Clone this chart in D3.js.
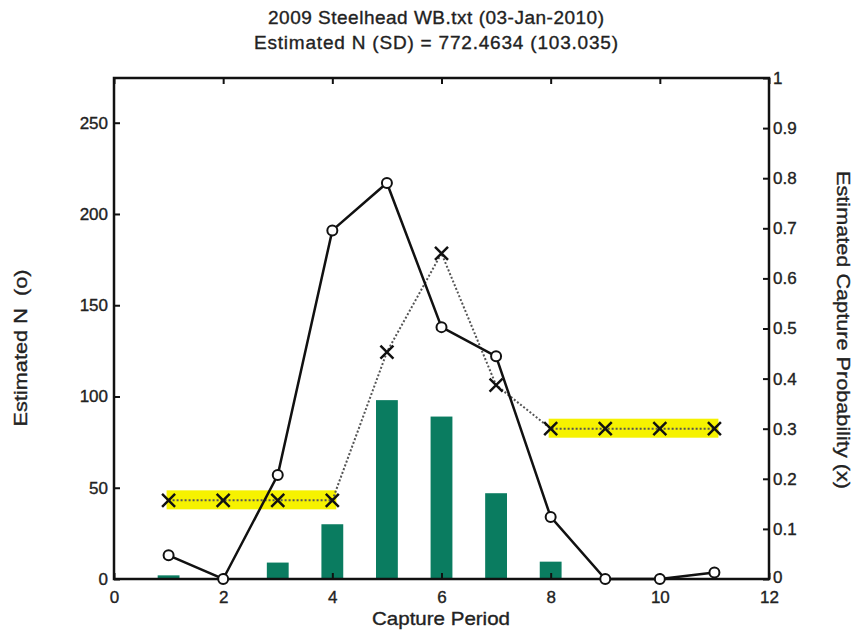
<!DOCTYPE html>
<html>
<head>
<meta charset="utf-8">
<script src="https://cdn.jsdelivr.net/npm/d3@7"></script>
<style>
  body { margin: 0; background: #fff; }
  svg text { font-family: "Liberation Sans", Arial, Helvetica, sans-serif; fill: #222; white-space: pre; }
</style>
</head>
<body>
<svg id="chart" width="855" height="634"></svg>
<script>
// Capture periods and estimates
const periods = [1, 2, 3, 4, 5, 6, 7, 8, 9, 10, 11];
const estimatedN = [13, 0, 57, 191, 217, 138, 122, 34, 0, 0, 3.5];
const catchCounts = [2, 0, 9, 30, 98, 89, 47, 9.5, 0, 0, 0.5];
const captureProb = [0.157, 0.157, 0.157, 0.157, 0.453, 0.65, 0.387, 0.30, 0.30, 0.30, 0.30];
// Periods sharing a pooled capture probability
const pooledGroups = [[1, 2, 3, 4], [8, 9, 10, 11]];

const xTicks = [0, 2, 4, 6, 8, 10, 12];
const leftTicks = [0, 50, 100, 150, 200, 250];
const rightTicks = [0, 0.1, 0.2, 0.3, 0.4, 0.5, 0.6, 0.7, 0.8, 0.9, 1];

const titleLines = ["2009 Steelhead WB.txt (03-Jan-2010)", "Estimated N (SD) = 772.4634 (103.035)"];

const svg = d3.select("#chart");
const m = { left: 114, right: 769, top: 78, bottom: 579 };

const x = d3.scaleLinear().domain([0, 12]).range([m.left, m.right]);
const yL = d3.scaleLinear().domain([0, 274.5]).range([m.bottom, m.top]);
const yR = d3.scaleLinear().domain([0, 1]).range([m.bottom, m.top]);

const labelSize = 19;
const tickSize = 17;

// Title
svg.selectAll("text.title").data(titleLines).join("text")
  .attr("class", "title")
  .attr("x", 436).attr("y", (d, i) => 24 + i * 25)
  .attr("text-anchor", "middle").attr("font-size", labelSize)
  .attr("stroke", "#222").attr("stroke-width", 0.35)
  .attr("textLength", (d, i) => i === 0 ? 336 : 364)
  .text(d => d);

// Yellow bands behind pooled probabilities
const bandGroups = pooledGroups.map(g => ({
  x0: d3.min(g), x1: d3.max(g),
  p: captureProb[periods.indexOf(g[0])]
}));
svg.selectAll("rect.band").data(bandGroups).join("rect")
  .attr("class", "band")
  .attr("x", d => x(d.x0) - 2)
  .attr("width", d => x(d.x1) - x(d.x0) + 6)
  .attr("y", d => yR(d.p) - 10)
  .attr("height", 19)
  .attr("fill", "#f6f200");

// Catch bars
const barW = x(0.4) - x(0);
svg.selectAll("rect.bar").data(periods).join("rect")
  .attr("class", "bar")
  .attr("x", (d) => x(d) - barW / 2)
  .attr("width", barW)
  .attr("y", (d, i) => yL(catchCounts[i]))
  .attr("height", (d, i) => yL(0) - yL(catchCounts[i]))
  .attr("fill", "#0a7c60");

// Capture probability dotted line
const probLine = d3.line().x((d, i) => x(periods[i])).y(d => yR(d));
svg.append("path").datum(captureProb)
  .attr("d", probLine)
  .attr("fill", "none").attr("stroke", "#555")
  .attr("stroke-width", 2).attr("stroke-dasharray", "2,2");

// Estimated N solid line
const nLine = d3.line().x((d, i) => x(periods[i])).y(d => yL(d));
svg.append("path").datum(estimatedN)
  .attr("d", nLine)
  .attr("fill", "none").attr("stroke", "#111").attr("stroke-width", 2.5);

// Axes frame
svg.append("rect")
  .attr("x", m.left).attr("y", m.top)
  .attr("width", m.right - m.left).attr("height", m.bottom - m.top)
  .attr("fill", "none").attr("stroke", "#111").attr("stroke-width", 2.5);

const tickLen = 6;
// Bottom axis
const xb = svg.append("g").attr("transform", `translate(0,${m.bottom})`)
  .call(d3.axisBottom(x).tickValues(xTicks).tickSize(-tickLen).tickPadding(12).tickFormat(d3.format("d")));
// Top axis ticks
const xt = svg.append("g").attr("transform", `translate(0,${m.top})`)
  .call(d3.axisTop(x).tickValues(xTicks).tickSize(-tickLen).tickFormat(""));
// Left axis
const yl = svg.append("g").attr("transform", `translate(${m.left},0)`)
  .call(d3.axisLeft(yL).tickValues(leftTicks).tickSize(-tickLen).tickPadding(6));
// Right axis
const yr = svg.append("g").attr("transform", `translate(${m.right},0)`)
  .call(d3.axisRight(yR).tickValues(rightTicks).tickSize(-tickLen).tickPadding(4)
    .tickFormat(d => d === 0 ? "0" : d === 1 ? "1" : d3.format(".1f")(d)));

[xb, xt, yl, yr].forEach(g => {
  g.select(".domain").remove();
  g.selectAll(".tick line").attr("stroke", "#111").attr("stroke-width", 2);
  g.selectAll(".tick text").attr("font-size", tickSize).attr("fill", "#222")
    .attr("stroke", "#222").attr("stroke-width", 0.35)
    .attr("font-family", "Liberation Sans, Arial, sans-serif");
});
// Lift the right-axis zero a touch so it clears the "12" below it
yr.selectAll(".tick text").filter(d => d === 0).attr("dy", "0.2em");

// Capture probability x markers
const xs = 6.5;
svg.selectAll("path.xmark").data(captureProb).join("path")
  .attr("class", "xmark")
  .attr("transform", (d, i) => `translate(${x(periods[i])},${yR(d)})`)
  .attr("d", `M${-xs},${-xs}L${xs},${xs}M${-xs},${xs}L${xs},${-xs}`)
  .attr("stroke", "#111").attr("stroke-width", 2.5).attr("fill", "none");

// Estimated N circle markers
svg.selectAll("circle.nmark").data(estimatedN).join("circle")
  .attr("class", "nmark")
  .attr("cx", (d, i) => x(periods[i]))
  .attr("cy", d => yL(d))
  .attr("r", 5)
  .attr("fill", "#fff").attr("stroke", "#111").attr("stroke-width", 2);

// Axis labels
svg.append("text")
  .attr("x", 441).attr("y", 625)
  .attr("text-anchor", "middle").attr("font-size", labelSize)
  .attr("stroke", "#222").attr("stroke-width", 0.35)
  .attr("textLength", 138).attr("lengthAdjust", "spacingAndGlyphs")
  .text("Capture Period");

svg.append("text")
  .attr("transform", `translate(27,348) rotate(-90)`)
  .attr("text-anchor", "middle").attr("font-size", labelSize)
  .attr("stroke", "#222").attr("stroke-width", 0.35)
  .attr("textLength", 157).attr("lengthAdjust", "spacingAndGlyphs")
  .text("Estimated N  (o)");

svg.append("text")
  .attr("transform", `translate(837,330) rotate(90)`)
  .attr("text-anchor", "middle").attr("font-size", labelSize)
  .attr("stroke", "#222").attr("stroke-width", 0.35)
  .attr("textLength", 318).attr("lengthAdjust", "spacingAndGlyphs")
  .text("Estimated Capture Probability (x)");
</script>
</body>
</html>
